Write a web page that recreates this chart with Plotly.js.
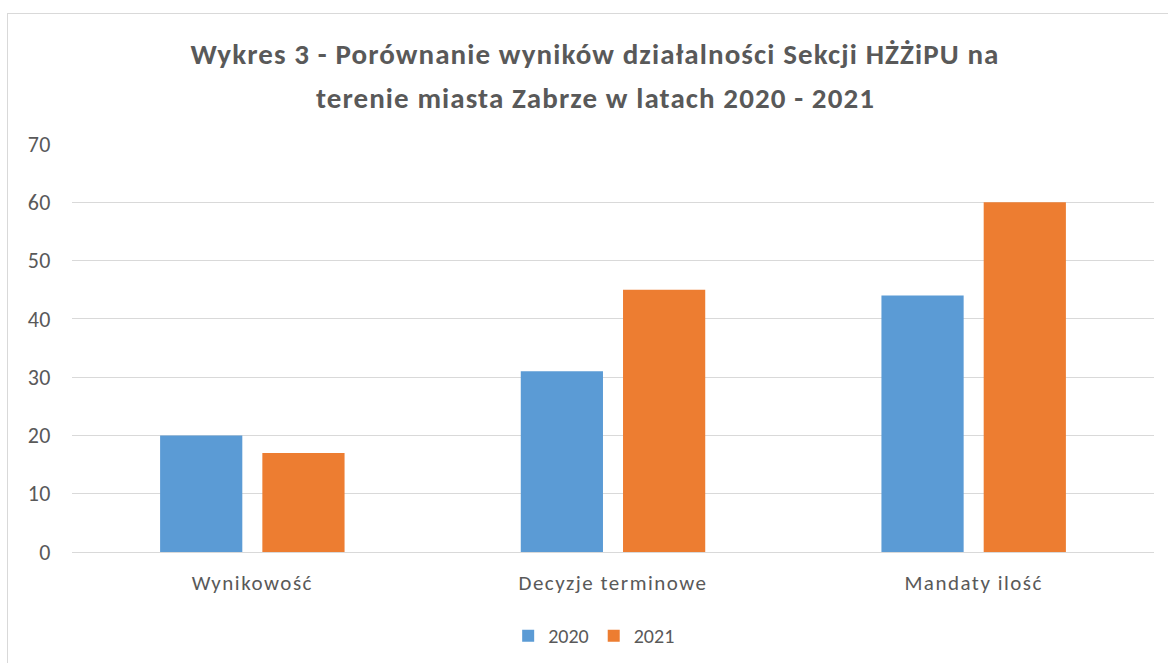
<!DOCTYPE html>
<html><head><meta charset="utf-8">
<script src="https://cdn.plot.ly/plotly-3.0.1.min.js"></script>
<style>
html,body{margin:0;padding:0;background:#fff;width:1168px;height:663px;overflow:hidden;}
#chart{position:absolute;left:7px;top:13px;width:1170px;height:660px;border:1px solid #d9d9d9;box-sizing:border-box;}
#chart .xtick text {letter-spacing:1.5px;}
#chart .ytick text {letter-spacing:0.5px;}
#chart .gtitle, #chart .annotation-text {letter-spacing:1.1px;}
</style></head><body>
<div id="chart"></div>
<script>
const categories = ["Wynikowość", "Decyzje terminowe", "Mandaty ilość"];
const series2020 = [20, 31, 44];
const series2021 = [17, 45, 60];
const seriesNames = ["2020", "2021"];
const yTicks = [0, 10, 20, 30, 40, 50, 60, 70];
const titleLine1 = "Wykres 3 - Porównanie wyników działalności Sekcji HŻŻiPU na";
const titleLine2 = "terenie miasta Zabrze w latach 2020 - 2021";

const FONT = "Carlito, Calibri, Lato, sans-serif";
const TITLE_FONT = {family:FONT, size:29, color:"#595959"};
const data = [
  {type:"bar", x:categories, y:series2020, name:seriesNames[0], marker:{color:"#5b9bd5"}, hoverinfo:"none"},
  {type:"bar", x:categories, y:series2021, name:seriesNames[1], marker:{color:"#ed7d31"}, hoverinfo:"none"}
];
const layout = {
  width:1170, height:660,
  margin:{l:64, r:24, t:130, b:122},
  paper_bgcolor:"#fff", plot_bgcolor:"#fff",
  font:{family:FONT, color:"#595959", size:20},
  title:{text:"<b>" + titleLine1 + "</b>", font:TITLE_FONT,
         x:0.5017, xanchor:"center", y:0.939, yanchor:"middle", yref:"container"},
  annotations:[{text:"<b>" + titleLine2 + "</b>", font:TITLE_FONT, showarrow:false,
         xref:"paper", yref:"paper", x:0.4834, y:1.1127, xanchor:"center", yanchor:"middle"}],
  barmode:"group", bargap:0.433, bargroupgap:0.196,
  xaxis:{showgrid:false, showline:false, zeroline:false, ticks:"", ticklabelstandoff:16, tickfont:{size:21, color:"#595959"}},
  yaxis:{range:[0,70], tickvals:yTicks, showgrid:true, gridcolor:"#d9d9d9", gridwidth:1,
         zeroline:true, zerolinecolor:"#d9d9d9", zerolinewidth:1, showline:false,
         ticks:"", ticklabelstandoff:20, tickfont:{size:22, color:"#595959"}},
  legend:{orientation:"h", x:0.4826, xanchor:"center", y:-0.205, yanchor:"middle",
          font:{size:20, color:"#595959"}, traceorder:"normal", itemwidth:30},
  showlegend:true
};
Plotly.newPlot("chart", data, layout, {displayModeBar:false, staticPlot:true});
</script></body></html>
